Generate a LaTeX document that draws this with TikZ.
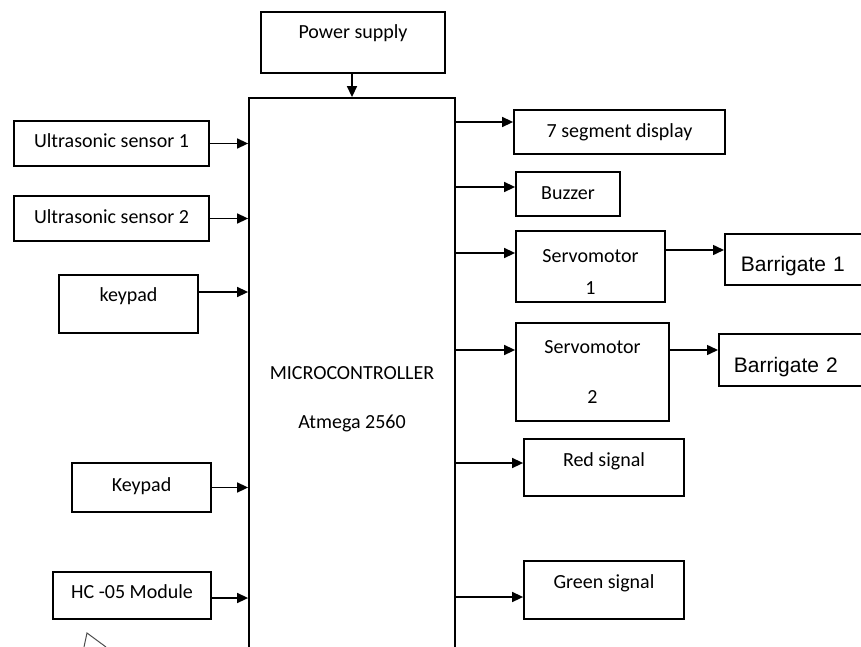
\documentclass[tikz,border=0pt]{standalone}
\usepackage{fontspec}
\setmainfont{Carlito}
\newfontfamily\arialfont{Liberation Sans}
\usepackage{tikz}
\usetikzlibrary{arrows.meta}
\tikzset{
  box/.style={rectangle, draw=black, line width=1.8pt, align=center,
    font=\fontsize{20}{24}\selectfont, inner sep=0pt},
  raised/.style={text height=14pt, text depth=#1},
  barbox/.style={rectangle, draw=black, line width=1.8pt, anchor=west,
    text width=128pt, align=left, inner xsep=16pt, inner ysep=0pt,
    text height=24pt, text depth=0pt,
    font=\arialfont\fontsize{21}{25}\selectfont},
  arrow/.style={-{Triangle[length=11pt,width=10pt]}, line width=1.5pt, color=black}
}

\begin{document}
\begin{tikzpicture}[x=1pt, y=-1pt]
  \clip (0,0) rectangle (861,647);
  % supply and controller
  \node[box, minimum width=184pt, minimum height=61pt, raised=21pt] (power) at (353,42.5) {Power supply};
  \node[box, minimum width=206pt, minimum height=596pt, text height=68pt] (micro) at (352,396) {MICROCONTROLLER\\[25pt]Atmega 2560};
  % inputs
  \node[box, minimum width=195pt, minimum height=45pt, raised=5pt] (us1) at (111.5,143.5) {Ultrasonic sensor 1};
  \node[box, minimum width=195pt, minimum height=45pt, raised=5pt] (us2) at (111.5,218.5) {Ultrasonic sensor 2};
  \node[box, minimum width=139pt, minimum height=58pt, raised=20pt] (keyl) at (128.5,304) {keypad};
  \node[box, minimum width=139pt, minimum height=49pt, raised=7pt] (keyu) at (141.5,487.5) {Keypad};
  \node[box, minimum width=158pt, minimum height=47pt, raised=9pt] (hc) at (132,595.5) {HC -05 Module};
  % outputs
  \node[box, minimum width=211pt, minimum height=44pt, raised=2pt] (seg) at (619.5,132) {7 segment display};
  \node[box, minimum width=104pt, minimum height=44pt, raised=4pt] (buzz) at (568,194) {Buzzer};
  \node[box, minimum width=149pt, minimum height=71pt, text height=56pt] (servo1) at (590.5,266.5) {Servomotor\\[8pt]1};
  \node[box, minimum width=153pt, minimum height=98pt] (servo2) at (592.5,372) {Servomotor\\[26pt]2};
  \node[box, minimum width=160pt, minimum height=57pt, raised=17pt] (red) at (604,467.5) {Red signal};
  \node[box, minimum width=160pt, minimum height=58pt, raised=18pt] (green) at (604,590) {Green signal};
  \node[barbox, minimum height=51pt] (bar1) at (724,259.5) {Barrigate 1};
  \node[barbox, minimum height=52pt, inner xsep=15pt] (bar2) at (718,360) {Barrigate 2};

  \draw[arrow] (power.south -| micro.north) -- (micro.north);
  \draw[arrow] (us1.east) -- (us1.east -| micro.west);
  \draw[arrow] (us2.east) -- (us2.east -| micro.west);
  \draw[arrow] ([yshift=12pt]keyl.east) -- ([yshift=12pt]keyl.east -| micro.west);
  \draw[arrow] (keyu.east) -- (keyu.east -| micro.west);
  \draw[arrow] ([yshift=-2.5pt]hc.east) -- ([yshift=-2.5pt]hc.east -| micro.west);

  \draw[arrow] ([yshift=10pt]seg.west -| micro.east) -- ([yshift=10pt]seg.west);
  \draw[arrow] ([yshift=7pt]buzz.west -| micro.east) -- ([yshift=7pt]buzz.west);
  \draw[arrow] ([yshift=13.5pt]servo1.west -| micro.east) -- ([yshift=13.5pt]servo1.west);
  \draw[arrow] ([yshift=22pt]servo2.west -| micro.east) -- ([yshift=22pt]servo2.west);
  \draw[arrow] ([yshift=4.5pt]red.west -| micro.east) -- ([yshift=4.5pt]red.west);
  \draw[arrow] ([yshift=-7pt]green.west -| micro.east) -- ([yshift=-7pt]green.west);
  \draw[arrow] ([yshift=16.5pt]servo1.east) -- ([yshift=16.5pt]servo1.east -| bar1.west);
  \draw[arrow] ([yshift=22pt]servo2.east) -- ([yshift=22pt]servo2.east -| bar2.west);

  % cut-off shape at the bottom edge
  \draw[line width=1pt, color=black!70] (84,647) -- (87,633) -- (106,647);
\end{tikzpicture}
\end{document}
